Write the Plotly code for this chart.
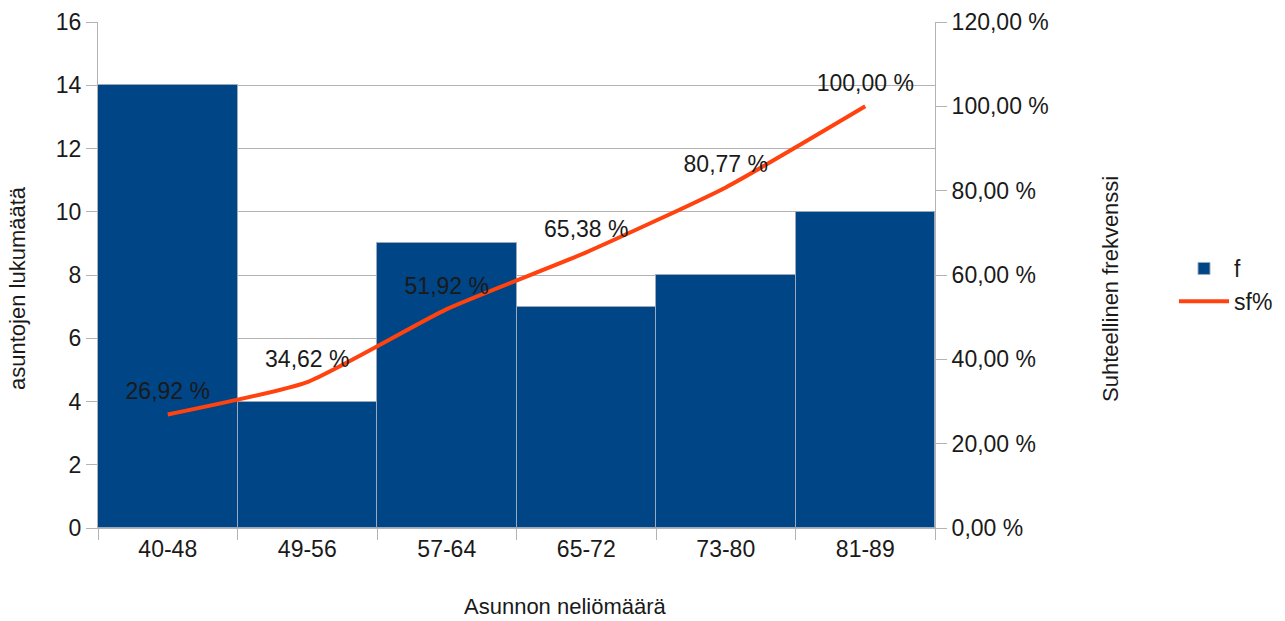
import plotly.graph_objects as go

categories = ["40-48", "49-56", "57-64", "65-72", "73-80", "81-89"]
f_values = [14, 4, 9, 7, 8, 10]
sf_values = [26.92, 34.62, 51.92, 65.38, 80.77, 100.00]
sf_labels = ["26,92 %", "34,62 %", "51,92 %", "65,38 %", "80,77 %", "100,00 %"]
left_ticks = [0, 2, 4, 6, 8, 10, 12, 14, 16]
right_ticks = [0, 20, 40, 60, 80, 100, 120]
right_tick_labels = ["0,00 %", "20,00 %", "40,00 %", "60,00 %", "80,00 %", "100,00 %", "120,00 %"]

FONT = "Liberation Sans, Arial, sans-serif"
TXT = "#1a1a1a"
GRID = "#b3b3b3"
FS = 23
FT = 22

W, H = 1285, 621
L, R, T, B = 98, 935, 22, 528


def px(x):
    return (x - L) / (R - L)


def py(y):
    return (B - y) / (B - T)


fig = go.Figure()
fig.add_trace(go.Bar(
    x=categories, y=f_values, name="f",
    marker=dict(color="#004586", line=dict(color="#9aa9bd", width=1)),
    yaxis="y",
))
fig.add_trace(go.Scatter(
    x=categories, y=sf_values, name="sf%",
    mode="lines+markers+text",
    marker=dict(size=14, color="rgba(0,0,0,0)"),
    text=sf_labels, textposition="top center",
    textfont=dict(family=FONT, size=FS, color=TXT),
    line=dict(color="#ff420e", width=4, shape="spline", smoothing=0.5),
    yaxis="y2",
))

fig.update_layout(
    width=W, height=H,
    margin=dict(l=L, r=W - R, t=T, b=H - B, autoexpand=False),
    paper_bgcolor="white", plot_bgcolor="white",
    font=dict(family=FONT, size=FS, color=TXT),
    bargap=0,
    showlegend=True,
    legend=dict(x=px(1174), y=py(247), xanchor="left", yanchor="top",
                font=dict(family=FONT, size=FS, color=TXT),
                itemwidth=50, tracegroupgap=4),
    xaxis=dict(
        type="category", range=[-0.5, 5.5],
        tickson="boundaries", ticks="outside", ticklen=11, tickcolor=GRID,
        showgrid=False, showline=True, linecolor=GRID, linewidth=1,
        tickfont=dict(family=FONT, size=FS, color=TXT),
    ),
    yaxis=dict(
        range=[0, 16], tickvals=left_ticks,
        ticks="outside", ticklen=11, tickcolor=GRID,
        showgrid=True, gridcolor=GRID, gridwidth=1,
        showline=True, linecolor=GRID, linewidth=1,
        zeroline=False,
        tickfont=dict(family=FONT, size=FS, color=TXT),
    ),
    yaxis2=dict(
        range=[0, 120], tickvals=right_ticks, ticktext=right_tick_labels,
        overlaying="y", side="right",
        ticks="outside", ticklen=11, tickcolor=GRID,
        showgrid=False, showline=True, linecolor=GRID, linewidth=1,
        zeroline=False,
        tickfont=dict(family=FONT, size=FS, color=TXT),
    ),
    annotations=[
        dict(text="Asunnon neliömäärä", xref="paper", yref="paper",
             x=px(565), y=py(606), xanchor="center", yanchor="middle",
             showarrow=False, font=dict(family=FONT, size=FT, color=TXT)),
        dict(text="asuntojen lukumäätä", xref="paper", yref="paper",
             x=px(17), y=py(288), xanchor="center", yanchor="middle",
             textangle=-90, showarrow=False,
             font=dict(family=FONT, size=FT, color=TXT)),
        dict(text="Suhteellinen frekvenssi", xref="paper", yref="paper",
             x=px(1110), y=py(289), xanchor="center", yanchor="middle",
             textangle=-90, showarrow=False,
             font=dict(family=FONT, size=FT, color=TXT)),
    ],
)

fig.write_html("out.html")
